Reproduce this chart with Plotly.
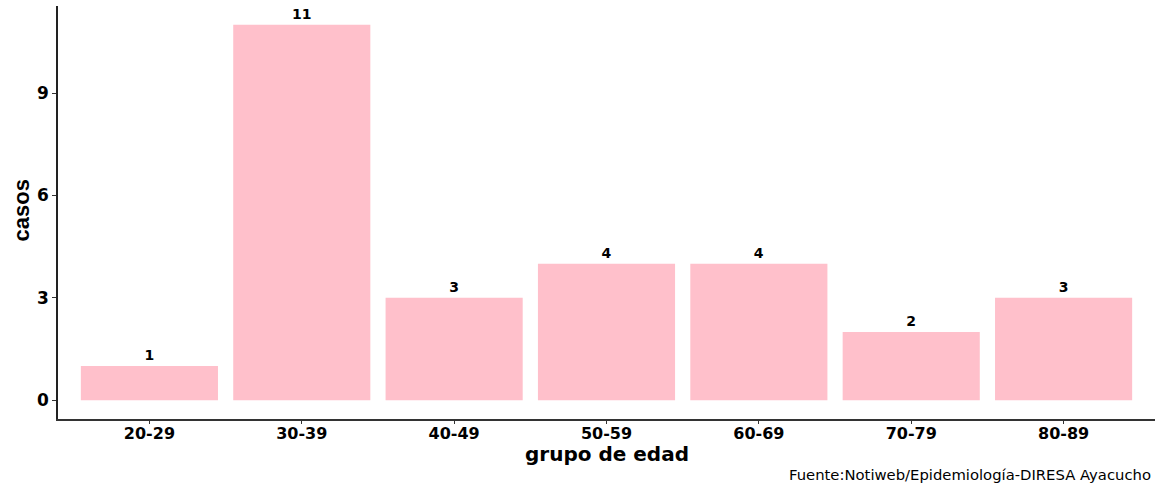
import plotly.graph_objects as go

grupos = ['20-29', '30-39', '40-49', '50-59', '60-69', '70-79', '80-89']
casos = [1, 11, 3, 4, 4, 2, 3]
y_ticks = [0, 3, 6, 9]

fig = go.Figure()
fig.add_trace(go.Bar(
    x=grupos, y=casos, width=0.9,
    marker=dict(color='#FFC0CB', line=dict(width=0)),
    text=[str(c) for c in casos], textposition='outside', cliponaxis=False,
    textfont=dict(family='DejaVu Sans', size=14, color='black', weight='bold'),
))

fig.update_layout(
    width=1155, height=487,
    plot_bgcolor='white', paper_bgcolor='white',
    margin=dict(l=58, r=0, t=6, b=68, autoexpand=False),
    showlegend=False, bargap=0.1,
    font=dict(family='DejaVu Sans', color='black'),
)
fig.update_xaxes(
    range=[-0.6, 6.6], showline=True, linecolor='#333333', linewidth=1.5,
    ticks='outside', ticklen=3, tickcolor='#333333', automargin=False,
    ticklabelstandoff=-4,
    tickfont=dict(size=16, weight='bold', color='black'),
    showgrid=False, zeroline=False,
)
fig.update_yaxes(
    range=[-0.55, 11.55], tickvals=y_ticks, showline=True, linecolor='#222222', linewidth=1.5,
    ticks='outside', ticklen=4, tickcolor='#333333', automargin=False,
    tickfont=dict(size=17, weight='bold', color='black'),
    showgrid=False, zeroline=False,
)
# axis titles and caption placed as annotations for exact positions
fig.add_annotation(
    text='grupo de edad', xref='paper', yref='paper', x=0.5, y=0, yshift=-35,
    xanchor='center', yanchor='middle', showarrow=False,
    font=dict(size=20, weight='bold'),
)
fig.add_annotation(
    text='casos', xref='paper', yref='paper', x=0, y=0.5, xshift=-37, yshift=2,
    xanchor='center', yanchor='middle', textangle=-90, showarrow=False,
    font=dict(family='Liberation Sans', size=22, weight='bold'),
)
fig.add_annotation(
    text='Fuente:Notiweb/Epidemiología-DIRESA Ayacucho',
    xref='paper', yref='paper', x=1, y=0, xshift=-2, yshift=-45, xanchor='right', yanchor='top',
    showarrow=False, font=dict(size=14.8, color='black'),
)

fig.write_html("out.html", config={'displayModeBar': False},
               post_script="document.body.style.margin='0';")
